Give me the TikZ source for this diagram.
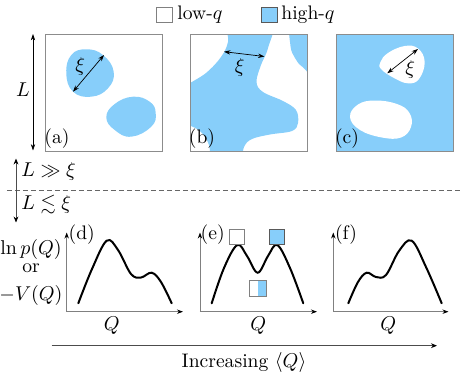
\documentclass[tikz,border=0pt]{standalone}
\usepackage{amssymb}
\usetikzlibrary{arrows.meta}
\definecolor{hiq}{RGB}{135,206,250}
\begin{document}
\begin{tikzpicture}[x=0.5pt,y=-0.5pt,
  every node/.style={font=\fontsize{9.8}{11.5}\selectfont, inner sep=0pt},
  panel/.style={draw=gray!90, line width=0.5pt},
  blob/.style={fill=hiq},
  hole/.style={fill=white},
  dbl/.style={{Stealth[length=3.2pt,width=2.2pt]}-{Stealth[length=3.2pt,width=2.2pt]}, line width=0.35pt},
  axisline/.style={draw=gray, line width=0.45pt, -{Stealth[length=3pt,width=2.2pt,color=black]}},
  curve/.style={line width=1pt, line cap=round},
  lbox/.style={draw=gray, line width=0.5pt},
  divider/.style={draw=gray!80!black, line width=0.45pt, dash pattern=on 2.5pt off 1.5pt},
  sidearrow/.style={draw=gray!60!black, line width=0.45pt, -{Stealth[length=3pt,width=2.4pt,color=black]}}
]
\useasboundingbox (0,0) rectangle (463,376);

% legend
\filldraw[lbox, fill=white] (157,7) rectangle (173,22);
\node[anchor=west] (lowq) at (177,14.5) {low-$q$};
\filldraw[lbox, draw=gray!70!black, fill=hiq] (262,7) rectangle (278,22);
\node[anchor=west] (highq) at (281,14.5) {high-$q$};

% L arrow
\coordinate (Lt) at (33,34);
\coordinate (Lb) at (33,150.5);
\draw[dbl] (Lt) -- (Lb);
\node (Llab) at (23,90) {$L$};

% panel (a)
\begin{scope}
\clip (46,34) rectangle (163,151);
\fill[blob] plot[smooth cycle, tension=0.75] coordinates {(86.3,49.3) (103,55) (113.7,71.7) (108,88.3) (91.3,96.7) (73,91.7) (66.3,73.3) (71.3,55)};
\fill[blob] plot[smooth cycle, tension=0.75] coordinates {(133,96.7) (149.7,101.7) (155.7,113) (151.3,126.7) (131.3,136.7) (114.7,130) (106.3,117.3) (114.7,104)};
\end{scope}
\draw[panel] (46,34) rectangle (163,151);
\coordinate (a1) at (73,91.7);
\coordinate (a2) at (104,55);
\draw[dbl] (a1) -- (a2);
\node (xia) at (80.3,66.7) {$\xi$};
\node (la) at (57,138.3) {(a)};

% panel (b)
\begin{scope}
\clip (191,34) rectangle (308,151);
\fill[blob] plot[smooth cycle, tension=0.6] coordinates {(230,20) (272,20) (268,48) (261,65) (256.5,82) (263,92) (283,101) (296,110) (298,123) (292,131) (270,134.5) (252,139) (244,147) (239,165) (213,165) (209,145) (200,131) (180,118) (180,92) (206,73) (221,57) (228,42)};
\fill[blob] plot[smooth cycle, tension=0.6] coordinates {(292,22) (290.5,46) (295,58) (302,66.5) (316,73) (322,22)};
\end{scope}
\draw[panel] (191,34) rectangle (308,151);
\coordinate (b1) at (224,51.7);
\coordinate (b2) at (264.5,56.5);
\draw[dbl] (b1) -- (b2);
\node (xib) at (239.7,67.5) {$\xi$};
\node (lb) at (202,138.3) {(b)};

% panel (c)
\fill[blob] (336.5,34) rectangle (453.5,151);
\fill[hole] plot[smooth cycle, tension=0.7] coordinates {(404.7,46) (418,48.5) (424.7,62) (419,79) (408,83.3) (394,78) (381,69) (380.5,62) (388,53)};
\fill[hole] plot[smooth cycle, tension=0.7] coordinates {(350,117) (358,104.5) (375,100.5) (397,104) (409.5,113) (411,127) (401,137.5) (382,137.5) (360,130)};
\draw[panel] (336.5,34) rectangle (453.5,151);
\coordinate (c1) at (387.3,73.3);
\coordinate (c2) at (418,49);
\draw[dbl] (c1) -- (c2);
\node (xic) at (410.3,69.5) {$\xi$};
\node (lc) at (347,138.3) {(c)};

% divider
\coordinate (dv) at (16,190.7);
\coordinate (up) at (16,158.5);
\coordinate (dn) at (16,222.5);
\draw[divider] (7,190.7) -- (463,190.7);
\draw[sidearrow] (dv) -- (up);
\draw[sidearrow] (dv) -- (dn);
\node[anchor=west] (gg) at (21,171) {$L \gg \xi$};
\node[anchor=west] (ll) at (21,205) {$L \lesssim \xi$};

% y label
\node (yl1) at (31,249) {$\ln p(Q)$};
\node (yl2) at (31,268.5) {or};
\node (yl3) at (31,295.7) {$-V(Q)$};

% plot (d)
\coordinate (d0) at (66.7,311.7);
\coordinate (dy) at (66.7,232.5);
\coordinate (dx) at (183,311.7);
\draw[axisline] (d0) -- (dy);
\draw[axisline] (d0) -- (dx);
\node (ld) at (81.7,235) {(d)};
\draw[curve] plot[smooth, tension=0.6] coordinates {(78.3,303.3) (92,269) (106.7,240.7) (118,250) (131,274) (141,277.5) (151.7,272.7) (161,282) (171.7,303.3)};
\node (qd) at (111.7,326) {$Q$};

% plot (e)
\coordinate (e0) at (200,311.7);
\coordinate (ey) at (200,232.5);
\coordinate (ex) at (317,311.7);
\draw[axisline] (e0) -- (ey);
\draw[axisline] (e0) -- (ex);
\node (le) at (212.7,235) {(e)};
\draw[curve] plot[smooth, tension=0.6] coordinates {(211.7,303.3) (224,268) (237.3,245) (247,256) (257.7,272.7) (268,256) (277.3,245) (290,268) (303.3,303.3)};
\filldraw[lbox, fill=white] (229.3,229.3) rectangle (244.3,244);
\filldraw[lbox, draw=gray!70!black, fill=hiq] (270,229.3) rectangle (285,244);
\fill[hiq] (258.3,280.7) rectangle (266.7,296);
\draw[lbox] (250,280.7) rectangle (266.7,296);
\node (qe) at (258.3,326) {$Q$};

% plot (f)
\coordinate (f0) at (333.3,311.7);
\coordinate (fy) at (333.3,232.5);
\coordinate (fx) at (448.5,311.7);
\draw[axisline] (f0) -- (fy);
\draw[axisline] (f0) -- (fx);
\node (lf) at (346,235) {(f)};
\draw[curve] plot[smooth, tension=0.6] coordinates {(348.3,303.3) (358,282) (366.7,272.7) (376,277) (386,275) (399,251) (411.7,240.7) (426,267) (441.7,303.3)};
\node (qf) at (388.3,326) {$Q$};

% bottom arrow
\coordinate (bs) at (51.7,345.7);
\coordinate (be) at (437,345.7);
\draw[sidearrow] (bs) -- (be);
\node (inc) at (244,362.7) {Increasing $\langle Q\rangle$};
\end{tikzpicture}
\end{document}
